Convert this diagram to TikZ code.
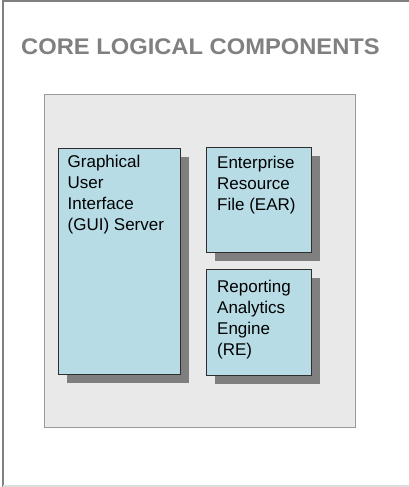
\documentclass[tikz,border=0pt]{standalone}
\usepackage{fontspec}
\setmainfont{Liberation Sans}
\usetikzlibrary{shadows}
\definecolor{framegray}{HTML}{808080}
\definecolor{bottomgray}{HTML}{DDDDDD}
\definecolor{panelfill}{HTML}{E9E9E9}
\definecolor{paneldraw}{HTML}{9A9A9A}
\definecolor{boxfill}{HTML}{B7DCE6}
\definecolor{boxdraw}{HTML}{2E2E2E}
\definecolor{shadowgray}{HTML}{7F7F7F}
\definecolor{titlegray}{HTML}{808080}
\begin{document}
\begin{tikzpicture}[x=1pt,y=-1pt,
  panelbox/.style={draw=paneldraw, fill=panelfill, line width=1.2pt},
  compbox/.style={draw=boxdraw, fill=boxfill, line width=0.9pt, inner sep=0pt,
    drop shadow={shadow xshift=8.5pt, shadow yshift=-8.5pt, fill=shadowgray, opacity=1}},
  comptext/.style={inner sep=0pt, align=left, anchor=north west,
    font=\fontsize{17}{21}\selectfont, text=black,
    execute at begin node={\rule{0pt}{14pt}}},
  titletext/.style={inner sep=0pt, anchor=base west, text=titlegray,
    font=\fontsize{22.6}{27}\selectfont\bfseries}
]
\useasboundingbox (0,0) rectangle (409,487);
% outer frame
\draw[framegray, line width=2pt] (2.5,487) -- (2.5,1) -- (409,1);
\draw[bottomgray, line width=1.6pt] (2.5,485.7) -- (409,485.7);
% title
\node[titletext] (title) at (21,54.3) {\scalebox{1.05}[1]{CORE LOGICAL COMPONENTS}};
% panel
\node[panelbox, inner sep=0pt, anchor=north west, minimum width=311.5pt, minimum height=333pt] (panel) at (43.5,94) {};
% component boxes
\node[compbox, anchor=north west, minimum width=121.7pt, minimum height=226pt] (gui) at (58.3,148.3) {};
\node[compbox, anchor=north west, minimum width=105.6pt, minimum height=105.6pt] (ear) at (205.7,146.7) {};
\node[compbox, anchor=north west, minimum width=105.6pt, minimum height=105.7pt] (re) at (205.7,269.3) {};
% texts (first baseline = top + 14pt)
\node[comptext] (guitext) at ([xshift=9.2pt,yshift=-6.7pt]gui.north west) {Graphical\\User\\Interface\\(GUI) Server};
\node[comptext] (eartext) at ([xshift=11.3pt,yshift=-9.3pt]ear.north west) {Enterprise\\Resource\\File (EAR)};
\node[comptext] (retext) at ([xshift=11.3pt,yshift=-10.2pt]re.north west) {Reporting\\Analytics\\Engine\\(RE)};
\end{tikzpicture}
\end{document}
